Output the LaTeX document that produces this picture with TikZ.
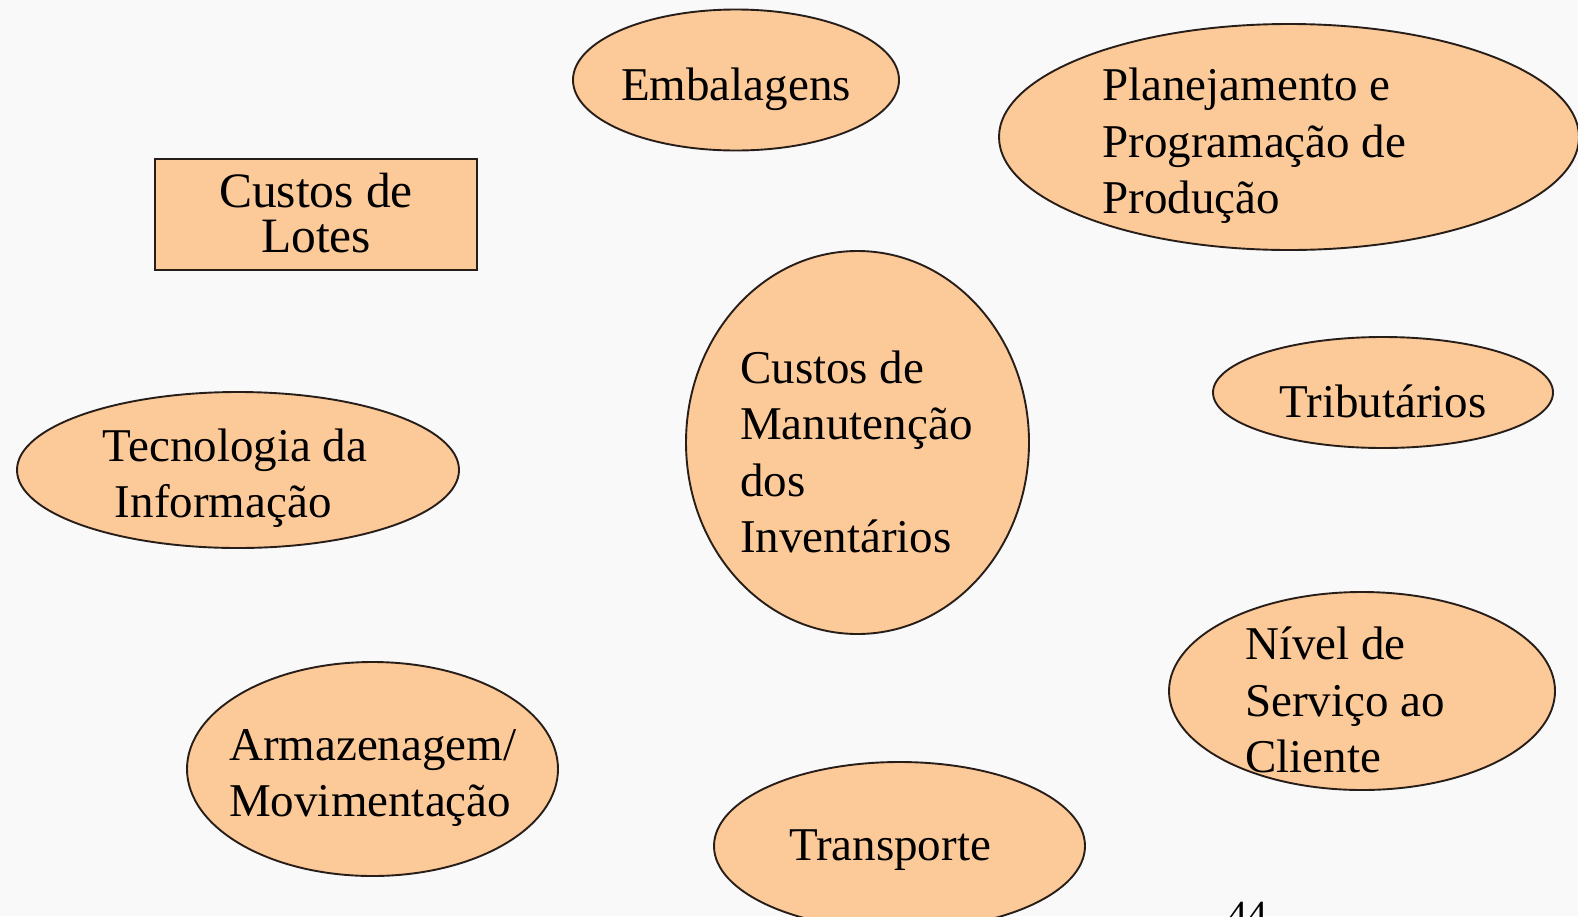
\documentclass[tikz,border=0pt]{standalone}
\usepackage{fontspec}
\setmainfont{Liberation Serif}
\usetikzlibrary{shapes.geometric}
\definecolor{bgc}{RGB}{249,249,249}
\definecolor{peach}{RGB}{252,201,153}
\definecolor{edge}{RGB}{40,30,25}
\tikzset{
  oval/.style={ellipse, fill=peach, draw=edge, line width=1.9pt, inner sep=0pt},
  boxn/.style={rectangle, fill=peach, draw=edge, line width=1.9pt, inner sep=0pt},
  txt/.style={font=\fontsize{47}{56.5}\selectfont, inner sep=0pt, text=black},
  txtl/.style={txt, align=left, anchor=west},
}
\begin{document}
\begin{tikzpicture}[x=1pt,y=-1pt]
\fill[bgc] (0,0) rectangle (1578,916);
\useasboundingbox (0,0) rectangle (1578,916);

% Embalagens
\node[oval, minimum width=326pt, minimum height=141pt] (emb) at (736,80) {};
\node[txt] (embt) at (736,89) {Embalagens};

% Planejamento
\node[oval, minimum width=580pt, minimum height=226pt] (plan) at (1289,137) {};
\node[txtl] (plant) at (1102,146) {Planejamento e\\Programação de\\Produção};

% Custos de Lotes
\node[boxn, minimum width=322pt, minimum height=111pt] (lotes) at (316,214.5) {};
\node[txt, align=center, font=\fontsize{49.5}{45}\selectfont] (lotest) at (316,213) {Custos de\\Lotes};

% Centro
\node[oval, minimum width=343pt, minimum height=383pt] (cent) at (857.5,442.5) {};
\node[txtl] (centt) at (740,452) {Custos de\\Manutenção\\dos\\Inventários};

% Tributarios
\node[oval, minimum width=340pt, minimum height=111pt] (trib) at (1383,392.5) {};
\node[txt] (tribt) at (1383,401) {Tributários};

% Tecnologia
\node[oval, minimum width=442pt, minimum height=156pt] (tec) at (238,470) {};
\node[txt, align=left] (tect) at (235,478) {Tecnologia da\\\hspace*{12pt}Informação};

% Nivel de servico
\node[oval, minimum width=386pt, minimum height=198pt] (niv) at (1362,691) {};
\node[txtl] (nivt) at (1245,700) {Nível de\\Serviço ao\\Cliente};

% Armazenagem
\node[oval, minimum width=371pt, minimum height=214pt] (arm) at (372.5,769) {};
\node[txtl] (armt) at (229,778) {Armazenagem/\\Movimentação};

% Transporte
\node[oval, minimum width=371pt, minimum height=168pt] (tra) at (899.5,846) {};
\node[txt] (trat) at (890,850) {Transporte};

% page number (cut off)
\node[txt, font=\fontsize{40}{40}\selectfont, anchor=north] (pg) at (1247,902) {44};
\end{tikzpicture}
\end{document}
